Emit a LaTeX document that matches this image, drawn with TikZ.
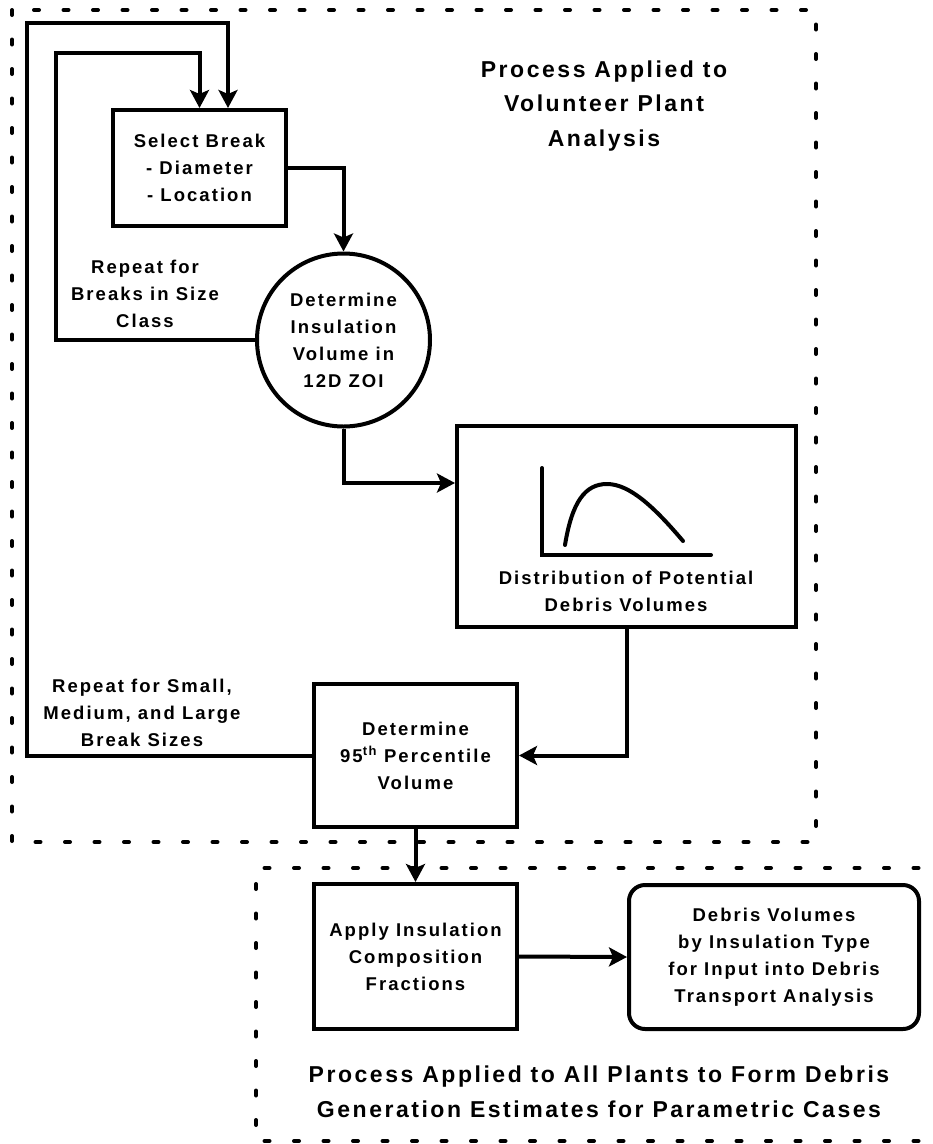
\documentclass[tikz,border=0pt]{standalone}
\usepackage{fontspec}
\setmainfont{Liberation Sans}[LetterSpace=11]
\usetikzlibrary{arrows.meta}
\begin{document}
\begin{tikzpicture}[x=1pt,y=-1pt,
  lbl/.style={font=\bfseries\fontsize{18.5}{27}\selectfont, align=center, inner sep=0pt},
  ttl/.style={font=\bfseries\fontsize{23}{34.5}\selectfont, align=center, inner sep=0pt},
  box/.style={draw, line width=4pt, rectangle, inner sep=0pt, font=\bfseries\fontsize{18.5}{27}\selectfont, align=center},
  rbox/.style={box, rounded corners=16pt},
  cbox/.style={draw, line width=4pt, circle, inner sep=0pt, minimum size=173pt, font=\bfseries\fontsize{18.5}{27}\selectfont, align=center},
  arr/.style={line width=4pt, -{Stealth[length=18pt,width=19pt,inset=4pt]}},
  dashbox/.style={line width=4pt, line cap=round, dash pattern=on 5pt off 24.5pt}
]
\useasboundingbox (0,0) rectangle (933,1144);

% dashed group outlines
\draw[dashbox] (12,10) rectangle (816,842);
\draw[dashbox] (948,868) -- (256,868) -- (256,1141) -- (948,1141);

% nodes
\node[box, minimum width=173pt, minimum height=116pt] (sel) at (199.5,168) {Select Break\\- Diameter\\- Location};
\node[cbox] (det) at (343.5,340) {Determine\\Insulation\\Volume in\\12D ZOI};
\node[box, minimum width=339pt, minimum height=201pt] (dist) at (626.5,526.5) {};
\node[lbl] (distlbl) at (626,591) {Distribution of Potential\\Debris Volumes};
\node[box, minimum width=203pt, minimum height=143pt] (p95) at (415.5,755.5) {Determine\\95\textsuperscript{th} Percentile\\Volume};
\node[box, minimum width=203pt, minimum height=145pt] (app) at (415.5,956.5) {Apply Insulation\\Composition\\Fractions};
\node[rbox, minimum width=290pt, minimum height=144pt] (dvol) at (774,957) {Debris Volumes\\by Insulation Type\\for Input into Debris\\Transport Analysis};

% labels
\node[ttl] (t1) at (604,106) {Process Applied to\\Volunteer Plant\\Analysis};
\node[ttl] (t2) at (599,1092) {Process Applied to All Plants to Form Debris\\Generation Estimates for Parametric Cases};
\node[lbl] (r1) at (145,294) {Repeat for\\Breaks in Size\\Class};
\node[lbl] (r2) at (142,713) {Repeat for Small,\\Medium, and Large\\Break Sizes};

% distribution sketch
\draw[line width=4pt, line cap=round] (542,468) -- (542,555) -- (711,555);
\draw[line width=4pt, line cap=round] (565,545) .. controls (572,502) and (585,484) .. (607,484) .. controls (630,484) and (655,508) .. (683,541);

% connectors
\coordinate (oL) at (27,23);
\coordinate (iL) at (56,53);
\draw[arr] (p95.west) -| (oL) -| ([xshift=28.5pt]sel.north);
\draw[arr] (det.west) -| (iL) -| (sel.north);
\draw[arr] (sel.east) -| (det.north);
\draw[arr] (det.south) |- ([yshift=43.5pt]dist.west);
\draw[arr] (dist.south) |- (p95.east);
\draw[arr] (p95.south) -- (app.north);
\draw[arr] (app.east) -- (dvol.west);
\end{tikzpicture}
\end{document}
